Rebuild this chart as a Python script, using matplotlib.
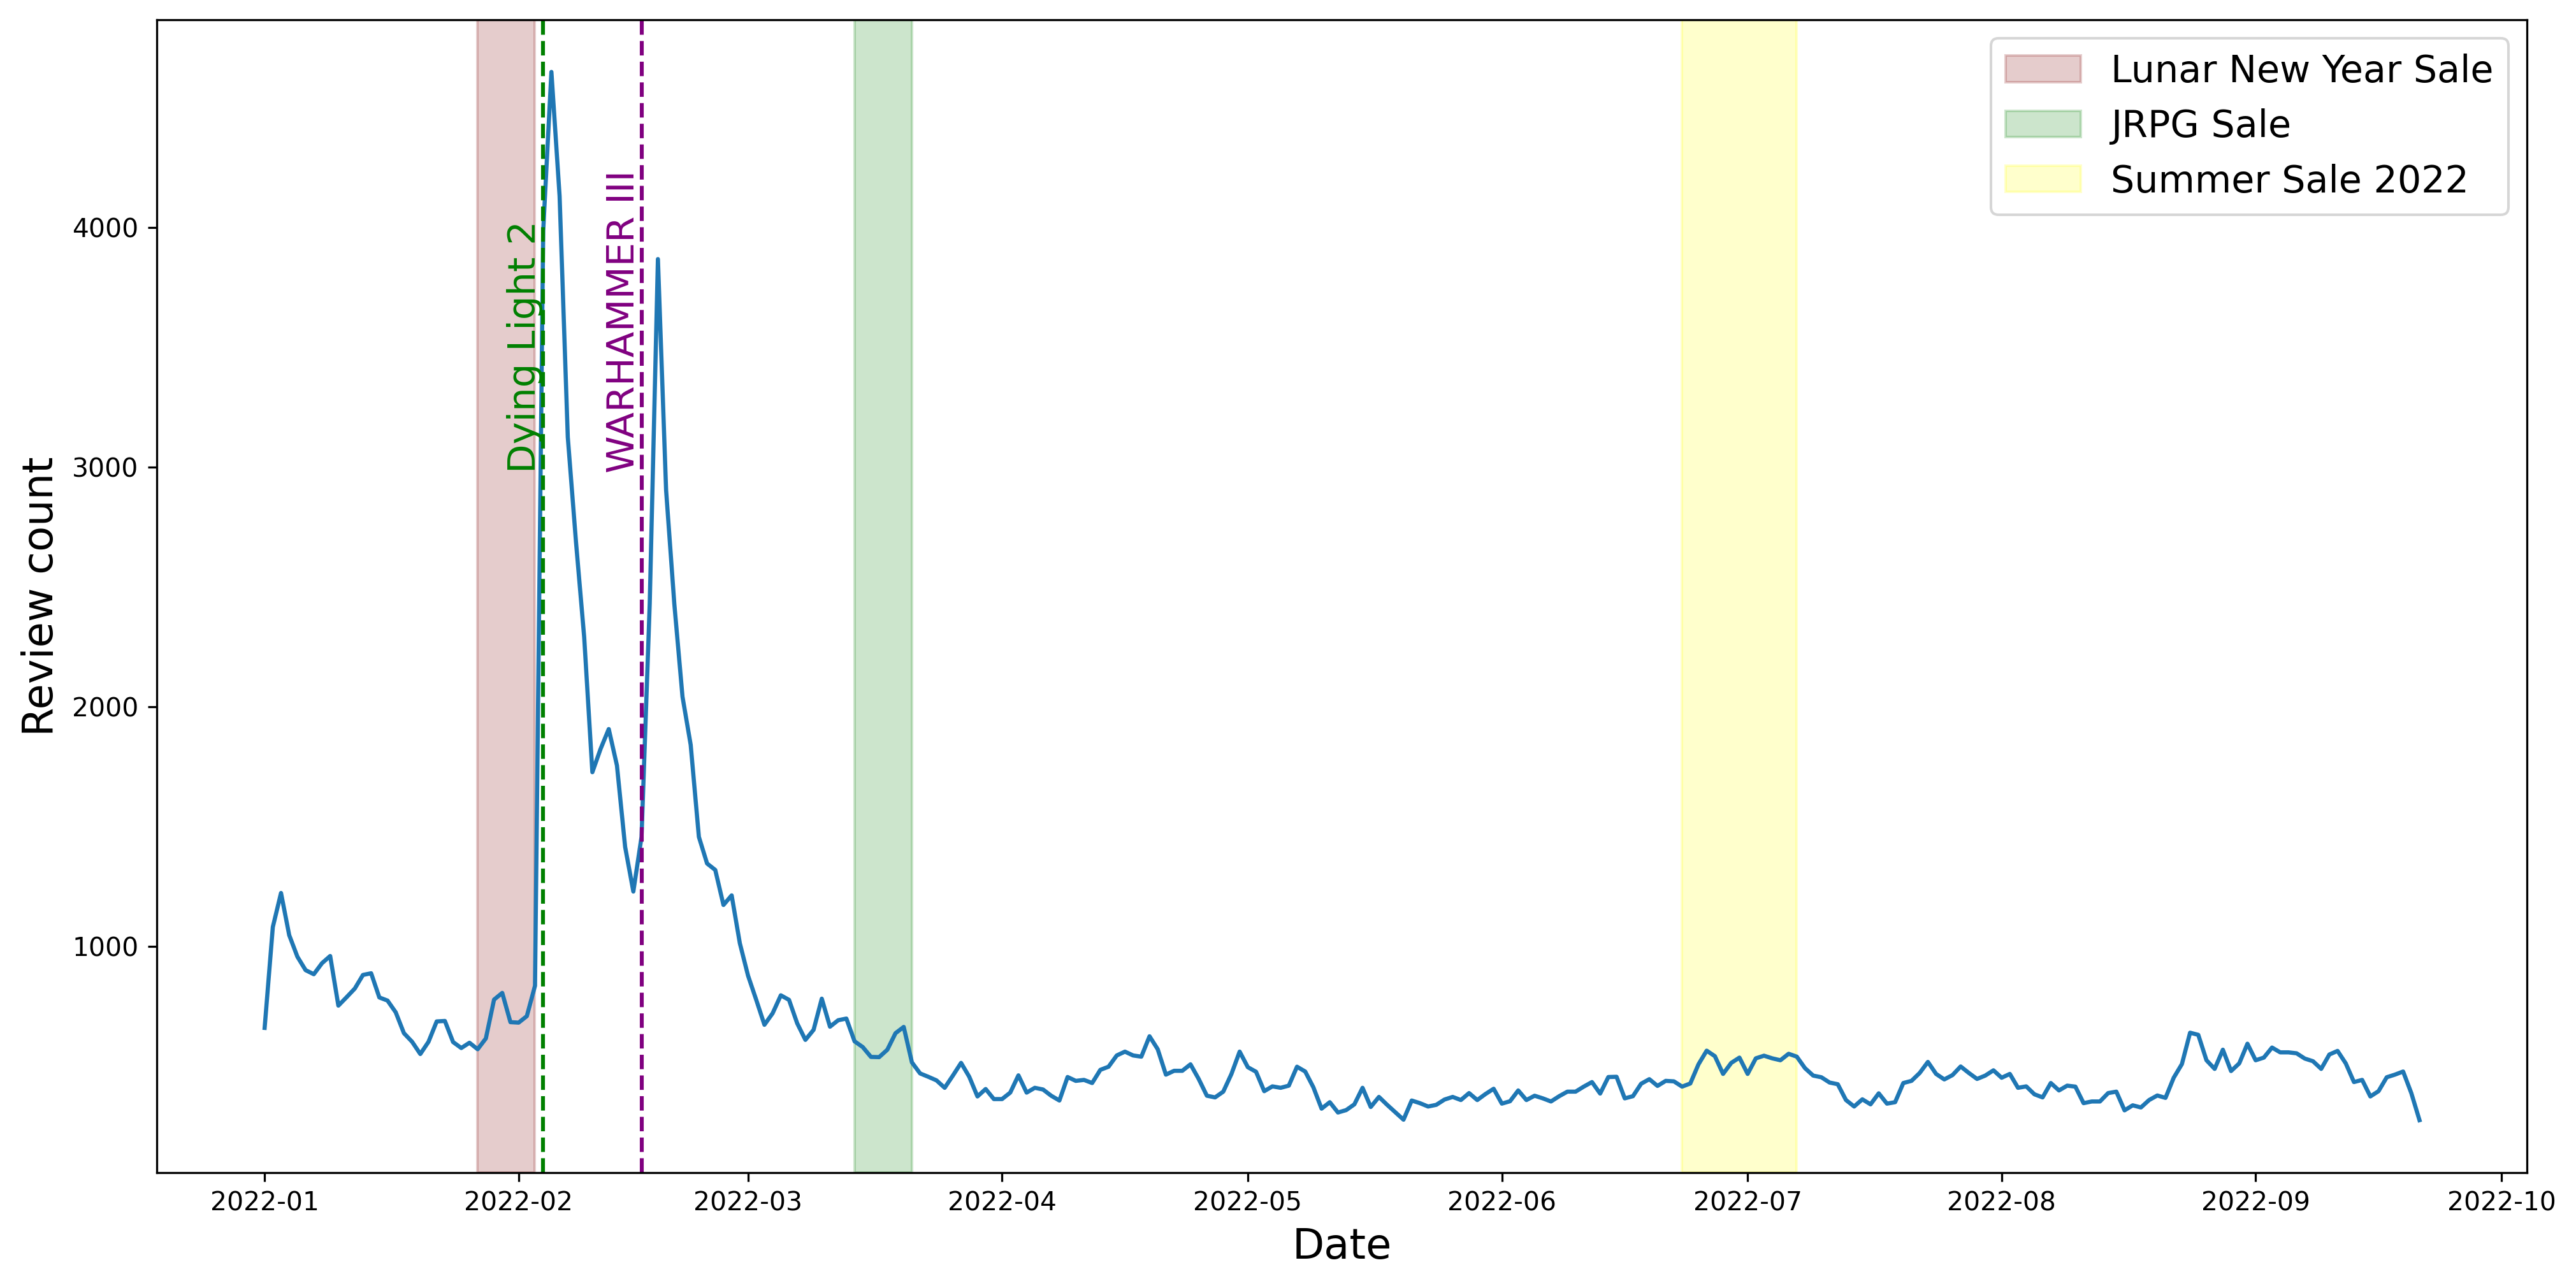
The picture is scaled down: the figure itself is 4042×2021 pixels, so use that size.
import pandas as pd
import matplotlib
matplotlib.use("Agg")
import matplotlib.pyplot as plt

# daily review counts, 2022-01-01 .. 2022-09-21
review_counts = [
    659, 1080, 1222, 1046, 956, 900, 883, 929, 959, 752,
    787, 823, 880, 887, 786, 773, 724, 637, 601, 550,
    601, 686, 688, 600, 575, 597, 570, 615, 777, 805,
    683, 681, 708, 835,
    3986, 4648, 4130, 3124, 2687, 2290, 1726, 1823, 1906, 1754,
    1414, 1228, 1456, 2429, 3867, 2902, 2429, 2041, 1840, 1456,
    1345, 1318, 1172, 1212, 1012, 877, 776, 672, 720, 795,
    776, 678, 609, 651, 781, 664, 691, 698,
    603, 579, 538, 537, 568, 637, 663, 515, 469, 455,
    440, 409, 460, 513, 455, 373, 404, 362, 362, 389,
    461, 389, 409, 402, 376, 356, 454, 438, 442, 429,
    484, 497, 544, 560, 544, 539, 624, 570, 464,
    480, 480, 507, 446, 376, 369, 393, 467, 560, 495,
    476, 395, 415, 409, 418, 497, 477, 411, 322, 349,
    306, 316, 340, 409, 329, 371, 338, 307, 276, 356,
    345, 331, 338, 360, 371, 358, 387, 358, 383,
    405, 343, 353, 398, 358, 376, 365, 352, 374, 393,
    393, 414, 433, 385, 454, 455, 365, 374, 426, 445,
    417, 438, 436, 414, 427, 507, 564, 541, 467, 513,
    535, 467, 532, 543, 532, 524, 551, 539, 491,
    460, 453, 431, 424, 358, 331, 361, 340, 386, 343,
    349, 429, 438, 471, 517, 467, 444, 462, 498, 471,
    446, 460, 482, 451, 467, 409, 415, 382, 369, 429,
    398, 418, 414, 345, 352, 352, 387, 393, 315,
    336, 327, 358, 377, 367, 451, 508, 639, 630, 524,
    488, 568, 479, 511, 593, 524, 535, 577, 557, 557,
    553, 531, 520, 488, 548, 563, 511, 433, 442, 373,
    395, 453, 464, 477, 387, 274,
]
dates = pd.date_range("2022-01-01", periods=len(review_counts), freq="D")

sale_names = ["Lunar New Year Sale", "JRPG Sale", "Summer Sale 2022"]
sale_starts = ["2022-01-27", "2022-03-14", "2022-06-23"]
sale_ends = ["2022-02-03", "2022-03-21", "2022-07-07"]
sale_colors = ["maroon", "green", "yellow"]

release_names = ["Dying Light 2", "WARHAMMER III"]
release_dates = ["2022-02-04", "2022-02-16"]
release_colors = ["green", "purple"]
label_y = 2975

DPI = 294
fig = plt.figure(figsize=(4042.3 / DPI, 2021.3 / DPI), dpi=DPI)
ax = fig.add_subplot(111)
fig.subplots_adjust(left=0.0609, right=0.981, bottom=0.0896, top=0.9847)

ax.plot(dates, review_counts, color="tab:blue", linewidth=1.6)

for name, start, end, col in zip(sale_names, sale_starts, sale_ends, sale_colors):
    ax.axvspan(pd.Timestamp(start), pd.Timestamp(end), color=col, alpha=0.2, label=name)

for name, day, col in zip(release_names, release_dates, release_colors):
    ax.axvline(pd.Timestamp(day), color=col, linestyle="--")
    ax.text(pd.Timestamp(day), label_y, name, rotation=90, color=col, fontsize=14.5,
            ha="right", va="bottom")

ax.set_xlabel("Date", fontsize=16)
ax.set_ylabel("Review count", fontsize=16)
ax.legend(loc="upper right", fontsize=14.4)

fig.savefig("out.png", dpi=DPI)
